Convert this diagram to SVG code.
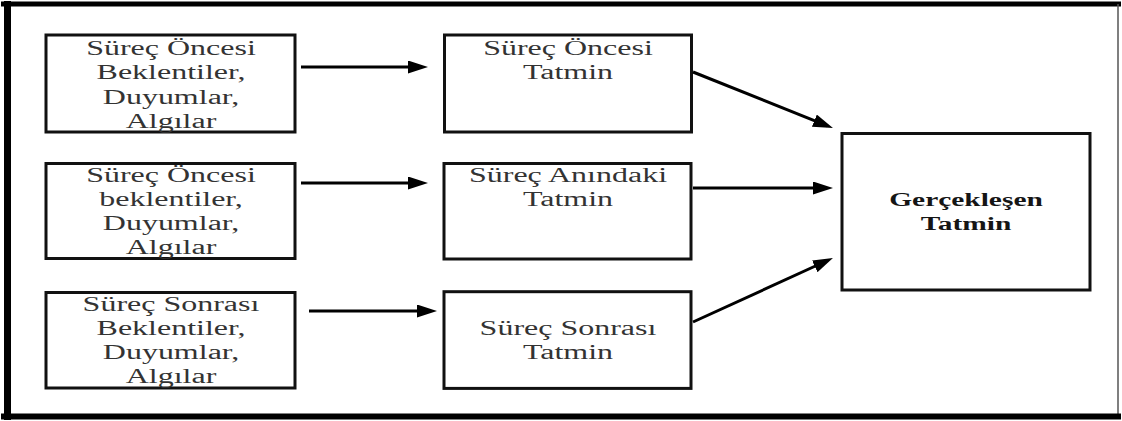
<svg xmlns="http://www.w3.org/2000/svg" width="1122" height="421" viewBox="0 0 1122 421">
<style>
.box{fill:#fff;stroke:#111;stroke-width:3}
.lbl{font-family:"Liberation Serif","Times New Roman",serif;font-size:20px;fill:#333;text-anchor:middle}
.bold{font-family:"Liberation Serif","Times New Roman",serif;font-size:19px;font-weight:bold;fill:#151515;text-anchor:middle}
.con{stroke:#000;stroke-width:3;fill:none;marker-end:url(#ah)}
</style>
<defs>
<marker id="ah" markerUnits="userSpaceOnUse" markerWidth="20" markerHeight="13" refX="14" refY="6.5" orient="auto">
<path d="M0,0 L20,6.5 L0,13 z" fill="#000"/>
</marker>
</defs>
<rect width="1122" height="421" fill="#fff"/>
<g id="frame">
<line x1="1" y1="4" x2="1121" y2="4" stroke="#000" stroke-width="5"/>
<line x1="1118" y1="4" x2="1118" y2="416" stroke="#555" stroke-width="1.5"/>
<line x1="1" y1="416.5" x2="1121" y2="416.5" stroke="#000" stroke-width="6"/>
<line x1="7.5" y1="1" x2="7.5" y2="420" stroke="#000" stroke-width="7"/>
</g>
<g id="n1">
<rect class="box" x="46" y="35" width="249" height="97"/>
<text class="lbl" transform="translate(171,0) scale(1.6,1)"><tspan x="0" y="55">Süreç Öncesi</tspan><tspan x="0" y="79">Beklentiler,</tspan><tspan x="0" y="104">Duyumlar,</tspan><tspan x="0" y="128">Algılar</tspan></text>
</g>
<g id="n2">
<rect class="box" x="46" y="163.5" width="249" height="95"/>
<text class="lbl" transform="translate(171,0) scale(1.6,1)"><tspan x="0" y="182">Süreç Öncesi</tspan><tspan x="0" y="206">beklentiler,</tspan><tspan x="0" y="230">Duyumlar,</tspan><tspan x="0" y="254">Algılar</tspan></text>
</g>
<g id="n3">
<rect class="box" x="46" y="292.5" width="249" height="95.5"/>
<text class="lbl" transform="translate(171,0) scale(1.6,1)"><tspan x="0" y="311">Süreç Sonrası</tspan><tspan x="0" y="335">Beklentiler,</tspan><tspan x="0" y="359">Duyumlar,</tspan><tspan x="0" y="383">Algılar</tspan></text>
</g>
<g id="m1">
<rect class="box" x="444.5" y="35" width="247" height="97"/>
<text class="lbl" transform="translate(568,0) scale(1.6,1)"><tspan x="0" y="55">Süreç Öncesi</tspan><tspan x="0" y="79">Tatmin</tspan></text>
</g>
<g id="m2">
<rect class="box" x="444" y="163.5" width="247" height="95.5"/>
<text class="lbl" transform="translate(568,0) scale(1.6,1)"><tspan x="0" y="182">Süreç Anındaki</tspan><tspan x="0" y="206">Tatmin</tspan></text>
</g>
<g id="m3">
<rect class="box" x="444" y="291.7" width="247" height="96.7"/>
<text class="lbl" transform="translate(568,0) scale(1.6,1)"><tspan x="0" y="335">Süreç Sonrası</tspan><tspan x="0" y="359">Tatmin</tspan></text>
</g>
<g id="r1">
<rect class="box" x="842" y="133.5" width="248" height="156.5"/>
<text class="bold" transform="translate(966,0) scale(1.55,1)"><tspan x="0" y="206">Gerçekleşen</tspan><tspan x="0" y="230">Tatmin</tspan></text>
</g>
<g id="connectors">
<line class="con" x1="301" y1="67" x2="422" y2="67"/>
<line class="con" x1="301" y1="183" x2="422" y2="183"/>
<line class="con" x1="309" y1="311" x2="431" y2="311"/>
<line class="con" x1="693" y1="72" x2="827.4" y2="125.8"/>
<line class="con" x1="693" y1="188" x2="827" y2="188"/>
<line class="con" x1="693" y1="322" x2="827.5" y2="260.5"/>
</g>
</svg>
